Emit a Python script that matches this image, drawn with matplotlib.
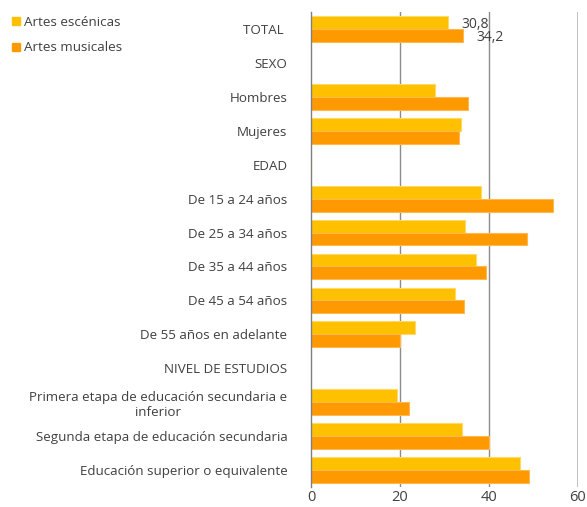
import matplotlib
matplotlib.use("Agg")
import matplotlib.pyplot as plt
from matplotlib.patches import Patch
import numpy as np

plt.rcParams['font.family'] = ['Open Sans', 'DejaVu Sans']

categories = ["TOTAL ", "SEXO", "Hombres", "Mujeres", "EDAD", "De 15 a 24 años",
              "De 25 a 34 años", "De 35 a 44 años", "De 45 a 54 años",
              "De 55 años en adelante", "NIVEL DE ESTUDIOS",
              "Primera etapa de educación secundaria e\ninferior",
              "Segunda etapa de educación secundaria",
              "Educación superior o equivalente"]
escenicas = [30.8, np.nan, 27.9, 33.8, np.nan, 38.1, 34.5, 37.1, 32.3, 23.4, np.nan, 19.3, 34.0, 47.0]
musicales = [34.2, np.nan, 35.3, 33.2, np.nan, 54.3, 48.5, 39.3, 34.4, 20.1, np.nan, 22.1, 40.1, 49.1]
series_names = ["Artes escénicas", "Artes musicales"]
xticks = [0, 20, 40, 60]

c_esc = "#FFC000"
c_mus = "#FF9900"

fig = plt.figure(figsize=(5.87, 5.07), dpi=100)
ax = fig.add_axes([311/587, 20/507, 267/587, 475/507])

y = np.arange(len(categories))
h = 0.38
ax.barh(y - h/2, np.nan_to_num(escenicas), height=h, color=c_esc,
        edgecolor="#FFD966", linewidth=0.8, zorder=3)
ax.barh(y + h/2, np.nan_to_num(musicales), height=h, color=c_mus,
        edgecolor="#FFB84D", linewidth=0.8, zorder=3)

# data labels for TOTAL
ax.text(escenicas[0] + 3.0, 0 - h/2 + 0.05, "30,8", ha="left", va="center",
        fontsize=10, color="#404040", zorder=4)
ax.text(musicales[0] + 3.0, 0 + h/2 + 0.05, "34,2", ha="left", va="center",
        fontsize=10, color="#404040", zorder=4)

ax.set_ylim(len(categories) - 0.5, -0.5)
ax.set_xlim(0, 60)
ax.set_xticks(xticks)
ax.set_yticks(y)
ax.set_yticklabels(categories, multialignment="center")
ax.tick_params(axis="y", length=0, pad=17, labelsize=9.6, labelcolor="#404040")
ax.tick_params(axis="x", length=0, pad=2, labelsize=10.5, labelcolor="#404040")

for s in ["top", "right", "bottom"]:
    ax.spines[s].set_visible(False)
ax.spines["left"].set_color("#808080")
ax.spines["left"].set_linewidth(1.0)
ax.spines["left"].set_zorder(5)

for xv in xticks[1:]:
    ax.axvline(xv, color="#8c8c8c" if xv < 60 else "#c0c0c0",
               linewidth=1.0 if xv < 60 else 1.4, zorder=1)

handles = [Patch(color=c_esc), Patch(color=c_mus)]
fig.legend(handles, series_names, loc="upper left", bbox_to_anchor=(0.0, 0.993),
           frameon=False, fontsize=9.7, handlelength=0.55, handleheight=0.55,
           handletextpad=0.3, labelspacing=0.95, labelcolor="#404040")

fig.savefig("out.png", dpi=100)
